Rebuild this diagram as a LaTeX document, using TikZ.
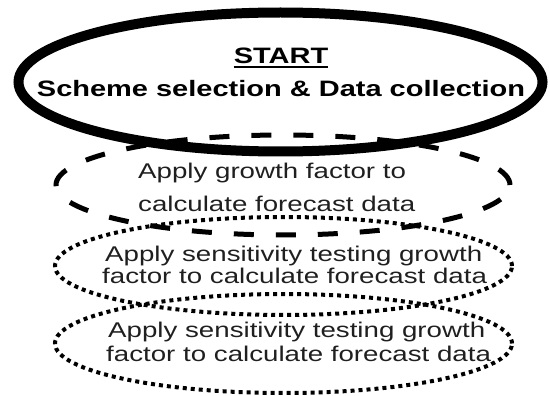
\documentclass[tikz,border=0pt]{standalone}
\usepackage{fontspec}
\setmainfont{Liberation Sans}
\newfontfamily\widesans[FakeStretch=1.3]{Liberation Sans}
\usetikzlibrary{shapes.geometric}

\begin{document}
\begin{tikzpicture}[x=1pt, y=-1pt,
  oval/.style={ellipse, draw=black, inner sep=0pt, outer sep=0pt},
  startoval/.style={oval, line width=10pt},
  dashoval/.style={oval, line width=5pt, dash pattern=on 20pt off 22pt},
  dotoval/.style={oval, line width=4pt, dash pattern=on 4pt off 4pt},
  titletext/.style={anchor=base, inner sep=0pt, text=black,
    font=\widesans\bfseries\fontsize{22.3}{26}\selectfont},
  bodytext/.style={anchor=base west, inner sep=0pt, text=black!88,
    font=\widesans\fontsize{21.3}{24}\selectfont}]

\useasboundingbox (0,0) rectangle (550,396);

% process stages, top to bottom
\node[dotoval, minimum width=457pt, minimum height=99pt] (e4) at (283.5,343.5) {};
\node[dotoval, minimum width=457pt, minimum height=98pt] (e3) at (283.5,266) {};
\node[dashoval, minimum width=454pt, minimum height=100pt] (e2) at (283,185) {};
\node[startoval, minimum width=524pt, minimum height=139pt] (e1) at (280.5,82) {};

% start oval
\node[titletext] (st) at (281,64) {START};
\draw[line width=2pt] ([yshift=-3.5pt]st.base west) -- ([yshift=-3.5pt]st.base east);
\node[titletext] (sel) at (281,97) {Scheme selection \& Data collection};

% growth factor stage
\node[bodytext] (g1) at (138,178.3) {Apply growth factor to};
\node[bodytext] (g2) at (138,211.7) {calculate forecast data};

% sensitivity testing stages
\node[bodytext] (s1) at (105,261.7) {Apply sensitivity testing growth};
\node[bodytext] (s2) at (102,283.3) {factor to calculate forecast data};
\node[bodytext] (r1) at (108,337.3) {Apply sensitivity testing growth};
\node[bodytext] (r2) at (106,361) {factor to calculate forecast data};
\end{tikzpicture}
\end{document}
